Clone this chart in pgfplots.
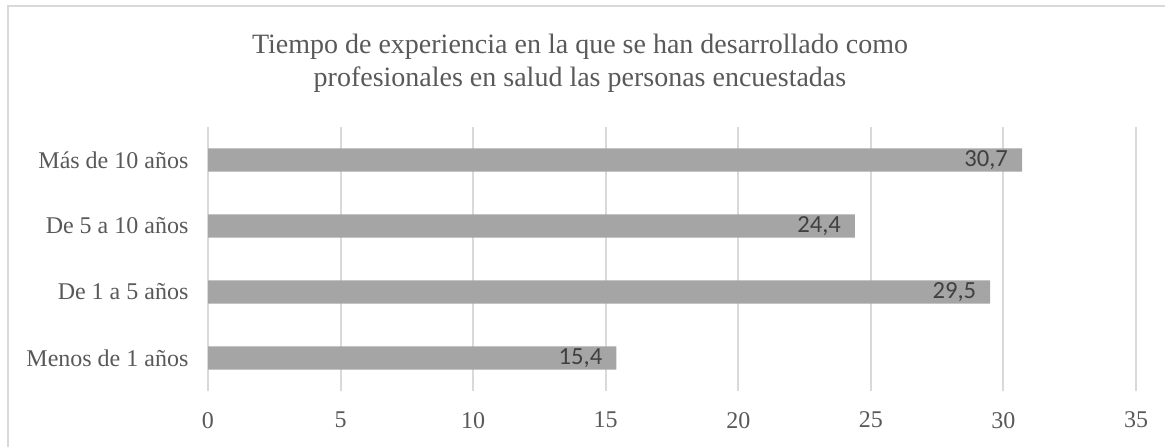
\documentclass[border=0pt]{standalone}
\usepackage{pgfplots}
\pgfplotsset{compat=1.18}
\usepackage{fontspec}
\setmainfont{Liberation Serif}
\newfontfamily\carlito{Carlito}
\definecolor{bargray}{HTML}{A5A5A5}
\definecolor{gridgray}{HTML}{D9D9D9}
\definecolor{txtgray}{HTML}{595959}
\definecolor{lbl}{HTML}{404040}
\begin{document}
\begin{tikzpicture}
\useasboundingbox (-104pt,-27.5pt) rectangle (478.5pt,195.5pt);
\draw[gridgray, line width=1pt] (-100pt,-40pt) -- (-100pt,192.5pt) -- (490pt,192.5pt);
\node[text=txtgray, font=\fontsize{14}{16.3}\selectfont, align=center] at (186pt,164pt)
  {Tiempo de experiencia en la que se han desarrollado como\\profesionales en salud las personas encuestadas};
\begin{axis}[
  at={(0,0)}, anchor=south west,
  scale only axis, width=464pt, height=132pt,
  xbar, bar width=11.7pt,
  xmin=0, xmax=35, ymin=-0.5, ymax=3.5,
  xtick={0,5,...,35},
  ytick={0,1,2,3},
  yticklabels={Menos de 1 años, De 1 a 5 años, De 5 a 10 años, Más de 10 años},
  axis line style={draw=none},
  major tick style={draw=none},
  xmajorgrids, major grid style={gridgray, line width=1pt},
  /pgf/number format/assume math mode=true,
  ticklabel style={text=txtgray, font=\fontsize{12}{14}\selectfont},
  xticklabel style={yshift=-7pt},
  yticklabel style={xshift=-2pt},
  nodes near coords,
  nodes near coords style={anchor=east, xshift=-3.5pt, text=lbl, font=\carlito\fontsize{12.3}{14}\selectfont,
    /pgf/number format/.cd, fixed, fixed zerofill, precision=1, use comma},
]
\addplot[fill=bargray, draw=none] coordinates {(15.4,0) (29.5,1) (24.4,2) (30.7,3)};
\end{axis}
\end{tikzpicture}
\end{document}
